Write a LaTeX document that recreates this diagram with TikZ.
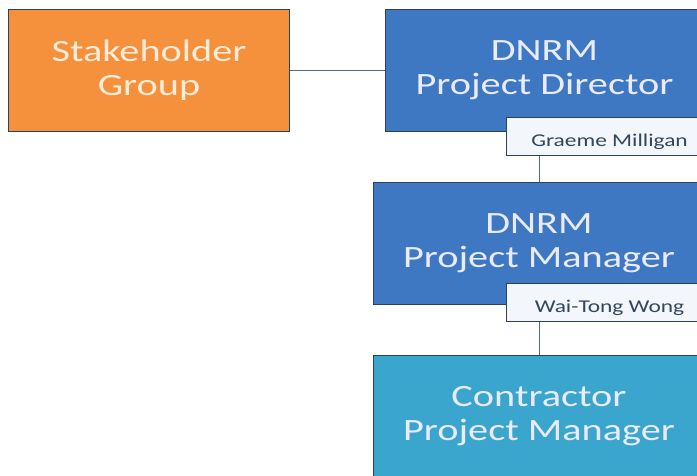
\documentclass[tikz,border=0pt]{standalone}
\usepackage{fontspec}
\setmainfont{Carlito}[FakeStretch=1.3]
\usepackage{xcolor}
\definecolor{stakeorange}{HTML}{F5903C}
\definecolor{dnrmblue}{HTML}{3E78C2}
\definecolor{contrteal}{HTML}{3AA6CD}
\definecolor{boxedge}{HTML}{2D4258}
\definecolor{namefill}{HTML}{F3F6FA}
\definecolor{nametext}{HTML}{34465C}

\begin{document}
\begin{tikzpicture}[x=1pt, y=-1pt,
  orgbox/.style={draw=boxedge, line width=1pt, anchor=north west, align=center,
    minimum height=122pt, inner sep=0pt, text=white!92!blue,
    font=\fontsize{31}{34}\selectfont},
  namebox/.style={draw=boxedge, line width=1pt, fill=namefill, anchor=north west,
    minimum width=206pt, minimum height=38pt, inner sep=0pt, text=nametext,
    text height=20pt, text depth=0pt, font=\fontsize{18}{20}\selectfont},
  link/.style={draw=boxedge!80, line width=1pt}]
  \clip (0,0) rectangle (697,475);
  \fill[white] (0,0) rectangle (697,475);
  % boxes
  \node[orgbox, fill=stakeorange, text=orange!15!white, minimum width=281pt] (stake) at (8,9) {Stakeholder\\Group};
  \node[orgbox, fill=dnrmblue, minimum width=318pt] (director) at (385,9) {DNRM\\Project Director};
  \node[orgbox, fill=dnrmblue, minimum width=331pt] (manager) at (373,182) {DNRM\\Project Manager};
  \node[orgbox, fill=contrteal, minimum width=331pt] (contractor) at (373,355) {Contractor\\Project Manager};
  % name tags
  \node[namebox] (graeme) at (506,117) {Graeme Milligan};
  \node[namebox] (waitong) at (506,283) {Wai-Tong Wong};
  % connectors
  \draw[link] (stake.east) -- (director.west);
  \draw[link] (graeme.south west -| manager.north) -- (manager.north);
  \draw[link] (waitong.south west -| contractor.north) -- (contractor.north);
\end{tikzpicture}
\end{document}
